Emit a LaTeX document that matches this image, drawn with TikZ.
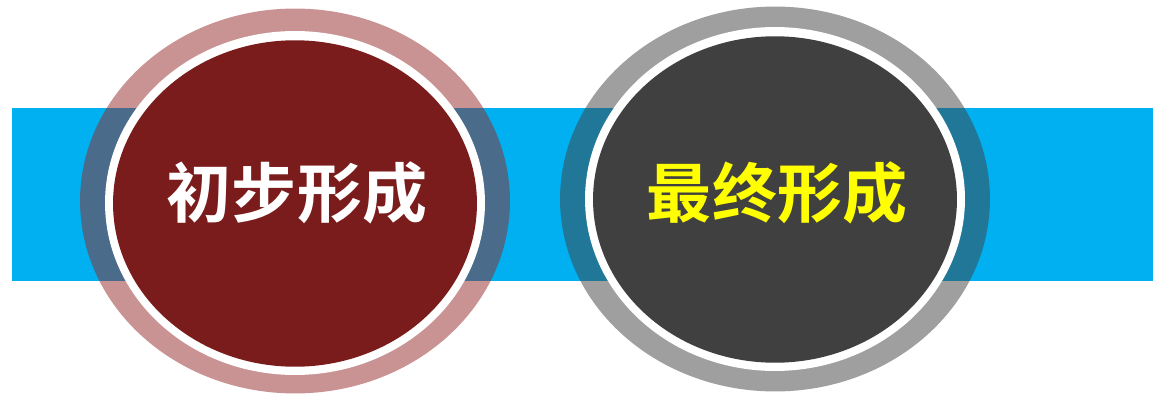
\documentclass[tikz,border=0pt]{standalone}
\usepackage{fontspec}
\newfontfamily\cjkfont{Noto Sans CJK SC}[BoldFont={Noto Sans CJK SC Bold}]
\usetikzlibrary{
    positioning,
    shapes.geometric
}
\definecolor{bandblue}{RGB}{0,176,240}
\definecolor{stepred}{RGB}{123,28,28}
\definecolor{ringred}{RGB}{150,40,40}
\definecolor{stepgray}{RGB}{64,64,64}
\definecolor{stepyellow}{RGB}{255,255,0}
\tikzset{
    % Band style
    band/.style={
        fill=bandblue,
        draw=none
    },
    % Ellipse styles
    outer ring/.style={
        ellipse,
        draw=none,
        inner sep=0pt,
        minimum width=8.6cm,
        minimum height=7.7cm,
        fill opacity=0.5
    },
    white ring/.style={
        ellipse,
        draw=none,
        fill=white,
        inner sep=0pt,
        minimum width=7.6cm,
        minimum height=6.88cm
    },
    core/.style={
        ellipse,
        draw=none,
        inner sep=0pt,
        minimum width=7.28cm,
        minimum height=6.53cm
    },
    % Label style
    stage label/.style={
        font=\cjkfont\bfseries\fontsize{37}{41}\selectfont,
        inner sep=0pt
    }
}

\begin{document}
\begin{tikzpicture}[x=0.02cm,y=-0.02cm]
        \useasboundingbox (0,0) rectangle (1153,395);

        % Blue band
        \fill[band] (12,108) rectangle (1153,281);

        % First stage
        \node[outer ring, fill=ringred] (ring1) at (295,201) {};
        \node[white ring] (gap1) at (295,203) {};
        \node[core, fill=stepred] (core1) at (295,203.5) {};
        \node[stage label, white] (label1) at (297,193) {初步形成};

        % Second stage
        \node[outer ring, fill=stepgray] (ring2) at (775,199) {};
        \node[white ring] (gap2) at (775,199) {};
        \node[core, fill=stepgray] (core2) at (775,199.5) {};
        \node[stage label, stepyellow] (label2) at (777,193) {最终形成};
    \end{tikzpicture}
\end{document}
